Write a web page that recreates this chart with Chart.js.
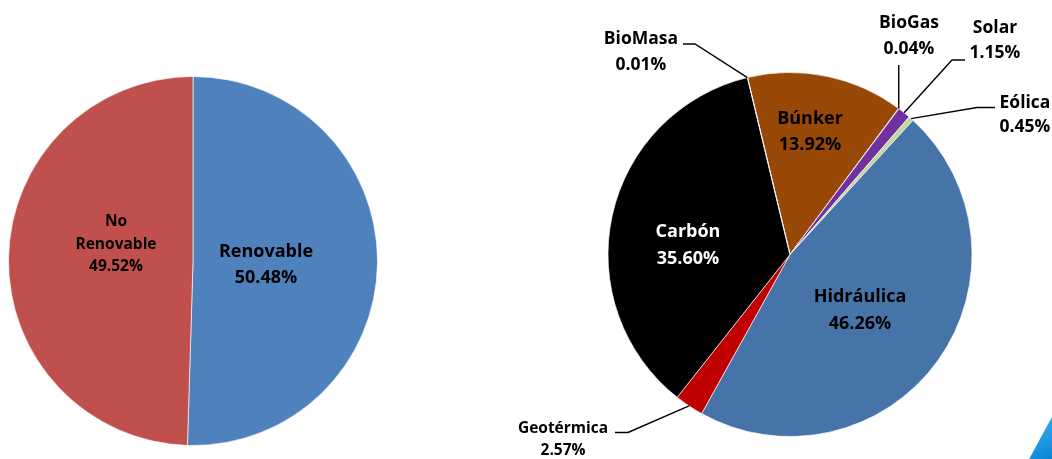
<!DOCTYPE html>
<html>
<head>
<meta charset="utf-8">
<script src="https://cdn.jsdelivr.net/npm/chart.js@4.4.1/dist/chart.umd.min.js"></script>
<style>
  html, body { margin: 0; padding: 0; background: #ffffff; }
  #wrap { position: relative; width: 1052px; height: 459px; overflow: hidden; }
  canvas { position: absolute; left: 0; top: 0; }
  #logo { position: absolute; left: 1028px; top: 414px; width: 24px; height: 45px;
          background: linear-gradient(160deg, #3db4f0, #0b86d6);
          clip-path: polygon(100% 6%, 100% 100%, 5% 100%); }
</style>
</head>
<body>
<div id="wrap">
  <canvas id="left" width="1052" height="459"></canvas>
  <canvas id="right" width="1052" height="459"></canvas>
  <div id="logo"></div>
</div>
<script>
// ---- Data ----
const leftCategories = ['Renovable', 'No Renovable'];
const leftValues = [50.48, 49.52];
const leftColors = ['#4F81BD', '#C0504D'];

const rightCategories = ['Búnker', 'BioGas', 'Solar', 'Eólica', 'Hidráulica', 'Geotérmica', 'Carbón', 'BioMasa'];
const rightValues = [13.92, 0.04, 1.15, 0.45, 46.26, 2.57, 35.60, 0.01];
const rightColors = ['#984807', '#8064A2', '#7030A0', '#C3D69B', '#4674A8', '#C00000', '#000000', '#4F81BD'];

const FONT = '"Open Sans", Lato, sans-serif';

// ---- Label layout (text placement only) ----
const leftLabelLayout = [
  { lines: ['Renovable', '{p}'], x: 266, y: 252, lh: 26, size: 18, color: '#000' },
  { lines: ['No', 'Renovable', '{p}'], x: 116, y: 222, lh: 22.5, size: 15.5, color: '#000' }
];
const rightLabelLayout = [
  { lines: ['Búnker', '{p}'], x: 810, y: 119, lh: 26, size: 18, color: '#000' },
  { lines: ['BioGas', '{p}'], x: 909, y: 23, lh: 26, size: 17.5, color: '#000', leader: [['edge'], ['edgex', 65]] },
  { lines: ['Solar', '{p}'], x: 995, y: 28, lh: 25, size: 17.5, color: '#000', leader: [['edge'], [952, 60], [965, 60]] },
  { lines: ['Eólica', '{p}'], x: 1025, y: 103, lh: 24, size: 17.5, color: '#000', leader: [['edge'], [977, 107.5], [995, 107.5]] },
  { lines: ['Hidráulica', '{p}'], x: 860, y: 297, lh: 27, size: 18, color: '#000' },
  { lines: ['Geotérmica', '{p}'], x: 563, y: 429, lh: 22, size: 15.5, color: '#000', leader: [['edge'], [628, 432.5], [615, 432.5]] },
  { lines: ['Carbón', '{p}'], x: 688, y: 232, lh: 27, size: 18, color: '#fff' },
  { lines: ['BioMasa', '{p}'], x: 641, y: 39, lh: 26, size: 17.5, color: '#000', leader: [['edge'], [695, 44], [683, 44]] }
];

const sliceLabels = {
  id: 'sliceLabels',
  afterDatasetsDraw(chart, args, opts) {
    const ctx = chart.ctx;
    const meta = chart.getDatasetMeta(0);
    const values = chart.data.datasets[0].data;
    opts.layout.forEach((item, i) => {
      const arc = meta.data[i];
      if (!arc) return;
      const p = arc.getProps(['x', 'y', 'startAngle', 'endAngle', 'outerRadius'], true);
      const mid = (p.startAngle + p.endAngle) / 2;
      const ex = p.x + Math.cos(mid) * p.outerRadius;
      const ey = p.y + Math.sin(mid) * p.outerRadius;
      ctx.save();
      if (item.leader) {
        ctx.beginPath();
        ctx.strokeStyle = '#000';
        ctx.lineWidth = 1.4;
        item.leader.forEach((pt, k) => {
          let px, py;
          if (pt[0] === 'edge') { px = ex; py = ey; }
          else if (pt[0] === 'edgex') { px = ex; py = pt[1]; }
          else { px = pt[0]; py = pt[1]; }
          if (k === 0) ctx.moveTo(px, py); else ctx.lineTo(px, py);
        });
        ctx.stroke();
      }
      ctx.fillStyle = item.color;
      ctx.font = 'bold ' + item.size + 'px ' + FONT;
      ctx.textAlign = 'center';
      ctx.textBaseline = 'middle';
      item.lines.forEach((ln, k) => {
        const txt = ln === '{p}' ? values[i].toFixed(2) + '%' : ln;
        ctx.fillText(txt, item.x, item.y + k * item.lh);
      });
      ctx.restore();
    });
  }
};

function makePie(id, labels, values, colors, layout, padding, radius, rotation) {
  return new Chart(document.getElementById(id), {
    type: 'pie',
    data: {
      labels: labels,
      datasets: [{
        data: values,
        backgroundColor: colors,
        borderColor: 'rgba(255,255,255,0.8)',
        borderWidth: 0.8
      }]
    },
    options: {
      responsive: false,
      animation: false,
      devicePixelRatio: 1,
      rotation: rotation,
      radius: radius,
      layout: { padding: padding },
      plugins: {
        legend: { display: false },
        tooltip: { enabled: false },
        sliceLabels: { layout: layout }
      }
    },
    plugins: [sliceLabels]
  });
}

makePie('left', leftCategories, leftValues, leftColors, leftLabelLayout,
  { left: 8.5, right: 674.5, top: 76.5, bottom: 13.5 }, 184.5, 0);
makePie('right', rightCategories, rightValues, rightColors, rightLabelLayout,
  { left: 608, right: 80, top: 72.5, bottom: 22.5 }, 182, -13.5);
</script>
</body>
</html>
